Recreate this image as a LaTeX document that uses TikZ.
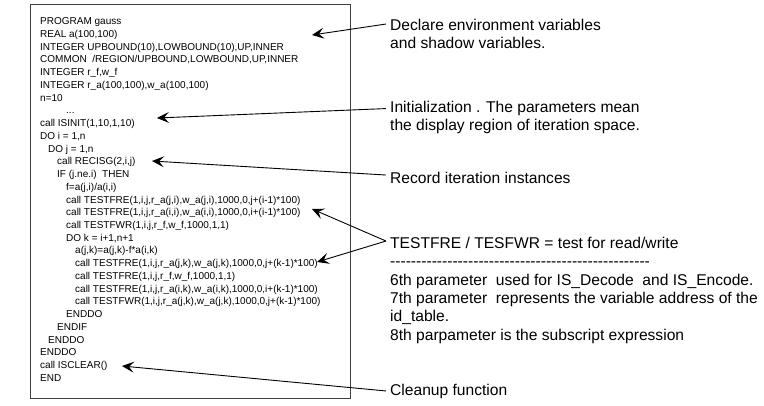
\documentclass[tikz,border=0pt]{standalone}
\usepackage{fontspec}
\setmainfont{Liberation Sans}
\usetikzlibrary{arrows.meta}
\definecolor{boxgray}{HTML}{404040}
\newcommand\dashrow{\foreach \k in {1,...,50}{-\kern0pt}}
\begin{document}
\begin{tikzpicture}[x=1pt,y=-1pt,
  code/.style={anchor=base west, inner sep=0pt, font=\fontsize{10}{12}\selectfont},
  note/.style={anchor=base west, inner sep=0pt, font=\fontsize{15.6}{18}\selectfont},
  conn/.style={draw=black, line width=0.9pt, -{Stealth[length=12pt,width=11pt,inset=5pt]}},
  frame/.style={draw=boxgray, line width=1.1pt, inner sep=0pt, anchor=north west}
]
\useasboundingbox (0,0) rectangle (764,405);
% code frame
\node[frame, minimum width=320pt, minimum height=394pt] (box) at (30,4) {};
% code lines
\node[code] (l0)  at (40,24.6)  {PROGRAM gauss};
\node[code] (l1)  at (40,37.3)  {REAL a(100,100)};
\node[code] (l2)  at (40,50.1)  {INTEGER UPBOUND(10),LOWBOUND(10),UP,INNER};
\node[code] (l3)  at (40,62.8)  {COMMON~ /REGION/UPBOUND,LOWBOUND,UP,INNER};
\node[code] (l4)  at (40,75.6)  {INTEGER r\_f,w\_f};
\node[code] (l5)  at (40,88.3)  {INTEGER r\_a(100,100),w\_a(100,100)};
\node[code] (l6)  at (40,101.0) {n=10};
\node[code] (l7)  at (66,113.8) {...};
\node[code] (l8)  at (40,126.5) {call ISINIT(1,10,1,10)};
\node[code] (l9)  at (40,139.3) {DO i = 1,n};
\node[code] (l10) at (48,152.0) {DO j = 1,n};
\node[code] (l11) at (57,164.7) {call RECISG(2,i,j)};
\node[code] (l12) at (57,177.5) {IF (j.ne.i)~ THEN};
\node[code] (l13) at (66,190.2) {f=a(j,i)/a(i,i)};
\node[code] (l14) at (66,203.0) {call TESTFRE(1,i,j,r\_a(j,i),w\_a(j,i),1000,0,j+(i-1)*100)};
\node[code] (l15) at (66,215.7) {call TESTFRE(1,i,j,r\_a(i,i),w\_a(i,i),1000,0,i+(i-1)*100)};
\node[code] (l16) at (66,228.4) {call TESTFWR(1,i,j,r\_f,w\_f,1000,1,1)};
\node[code] (l17) at (66,241.2) {DO k = i+1,n+1};
\node[code] (l18) at (75,253.9) {a(j,k)=a(j,k)-f*a(i,k)};
\node[code] (l19) at (75,266.7) {call TESTFRE(1,i,j,r\_a(j,k),w\_a(j,k),1000,0,j+(k-1)*100)};
\node[code] (l20) at (75,279.4) {call TESTFRE(1,i,j,r\_f,w\_f,1000,1,1)};
\node[code] (l21) at (75,292.1) {call TESTFRE(1,i,j,r\_a(i,k),w\_a(i,k),1000,0,i+(k-1)*100)};
\node[code] (l22) at (75,304.9) {call TESTFWR(1,i,j,r\_a(j,k),w\_a(j,k),1000,0,j+(k-1)*100)};
\node[code] (l23) at (66,317.6) {ENDDO};
\node[code] (l24) at (57,330.4) {ENDIF};
\node[code] (l25) at (48,343.1) {ENDDO};
\node[code] (l26) at (40,355.8) {ENDDO};
\node[code] (l27) at (40,368.6) {call ISCLEAR()};
\node[code] (l28) at (40,381.3) {END};
% notes
\node[note] (d1) at (390,30.6)  {Declare environment variables};
\node[note] (d2) at (390,48.6)  {and shadow variables.};
\node[note] (i1) at (390,112.6) {Initialization . The parameters mean};
\node[note] (i2) at (390,130.6) {the display region of iteration space.};
\node[note] (r1) at (390,183.6) {Record iteration instances};
\node[note] (t1) at (390,248.6) {TESTFRE / TESFWR = test for read/write};
\node[note] (t2) at (390,266.9) {\dashrow};
\node[note] (t3) at (390,285.2) {6th parameter~ used for IS\_Decode~ and IS\_Encode.};
\node[note] (t4) at (390,303.5) {7th parameter~ represents the variable address of the};
\node[note] (t5) at (390,321.8) {id\_table.};
\node[note] (t6) at (390,340.1) {8th parpameter is the subscript expression};
\node[note] (c1) at (390,395)   {Cleanup function};
% arrow tips
\coordinate (a1) at (312,35);
\coordinate (a2) at (157,118);
\coordinate (a3) at (152,161);
\coordinate (a4) at (312,209);
\coordinate (a5) at (317,262);
\coordinate (a6) at (122,366);
% connectors
\draw[conn] ([xshift=-4pt,yshift=1pt]d1.west) -- (a1);
\draw[conn] ([xshift=-4pt]i1.west) -- (a2);
\draw[conn] ([xshift=-4pt,yshift=3pt]r1.west) -- (a3);
\draw[conn] ([xshift=-4pt,yshift=2pt]t1.west) -- (a4);
\draw[conn] ([xshift=-4pt,yshift=2pt]t1.west) -- (a5);
\draw[conn] ([xshift=-4pt]c1.west) -- (a6);
\end{tikzpicture}
\end{document}
